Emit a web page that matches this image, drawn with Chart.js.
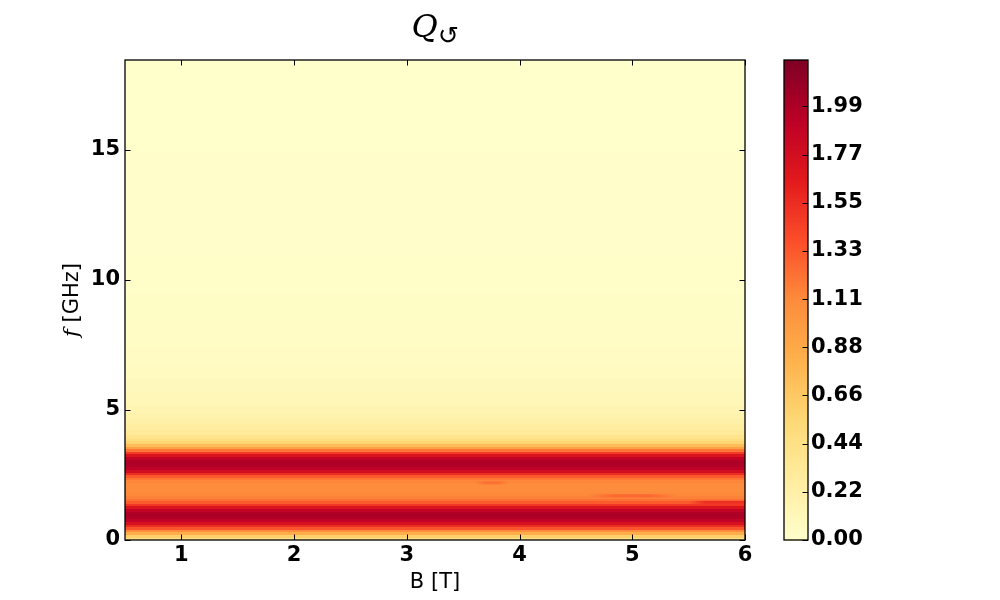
<!DOCTYPE html>
<html>
<head>
<meta charset="utf-8">
<script src="https://cdn.jsdelivr.net/npm/chart.js@4/dist/chart.umd.min.js"></script>
<style>
  body { margin: 0; background: #fff; }
  #wrap { position: relative; width: 1000px; height: 600px; }
  #main { position: absolute; left: 0; top: 0; }
  #cbar { position: absolute; left: 760px; top: 0; }
</style>
</head>
<body>
<div id="wrap">
  <canvas id="main" width="1000" height="600"></canvas>
  <canvas id="cbar" width="240" height="600"></canvas>
</div>
<script>
var freqs   = [0.0, 0.1, 0.2, 0.3, 0.4, 0.5, 0.6, 0.7, 0.8, 0.9,
               1.0, 1.1, 1.2, 1.3, 1.4, 1.5, 1.6, 1.7, 1.8, 2.0,
               2.2, 2.3, 2.4, 2.5, 2.6, 2.7, 2.8, 2.9, 3.0, 3.1,
               3.2, 3.3, 3.4, 3.5, 3.6, 3.7, 3.8, 3.9, 4.0, 4.2,
               4.4, 4.6, 4.8, 5.0, 5.5, 6.0, 6.5, 7.0, 8.0, 9.0,
               10.0, 12.0, 14.0, 16.0, 18.0];
var qValues = [0.35, 0.45, 0.62, 0.85, 1.10, 1.35, 1.55, 1.75, 1.90, 1.98,
               2.00, 1.98, 1.90, 1.72, 1.50, 1.33, 1.22, 1.15, 1.12, 1.10,
               1.10, 1.13, 1.20, 1.33, 1.55, 1.78, 1.92, 1.98, 2.00, 1.98,
               1.90, 1.72, 1.48, 1.20, 0.95, 0.75, 0.58, 0.47, 0.40, 0.32,
               0.27, 0.23, 0.20, 0.17, 0.13, 0.10, 0.08, 0.065, 0.045, 0.035,
               0.025, 0.015, 0.010, 0.005, 0.0];

// faint field-dependent streaks: [B from, B to, f, value]
var streakB0 = [3.6, 4.6, 5.5];
var streakB1 = [3.9, 5.4, 6.0];
var streakF  = [2.2, 1.7, 1.45];
var streakQ  = [1.25, 1.30, 1.60];

var bRange = [0.5, 6];
var fRange = [0, 18.46];
var cRange = [0, 2.203];

var xTicks = [1, 2, 3, 4, 5, 6];
var yTicks = [0, 5, 10, 15];
var cbTicks  = [0, 0.2211, 0.4422, 0.6633, 0.8844, 1.1055, 1.3266, 1.5477, 1.7688, 1.99];
var cbLabels = ['0.00', '0.22', '0.44', '0.66', '0.88', '1.11', '1.33', '1.55', '1.77', '1.99'];

// YlOrRd
var cmapStops = ['#ffffcc', '#ffeda0', '#fed976', '#feb24c', '#fd8d3c', '#fc4e2a', '#e31a1c', '#bd0026', '#800026'];

function hexRgb(h) {
  return [parseInt(h.substr(1, 2), 16), parseInt(h.substr(3, 2), 16), parseInt(h.substr(5, 2), 16)];
}
var cmapRgb = cmapStops.map(hexRgb);

function cmap(t, alpha) {
  t = Math.max(0, Math.min(1, t));
  var p = t * (cmapRgb.length - 1);
  var i = Math.min(Math.floor(p), cmapRgb.length - 2);
  var k = p - i;
  var a = cmapRgb[i], b = cmapRgb[i + 1];
  return 'rgba(' + Math.round(a[0] + (b[0] - a[0]) * k) + ',' +
                   Math.round(a[1] + (b[1] - a[1]) * k) + ',' +
                   Math.round(a[2] + (b[2] - a[2]) * k) + ',' + (alpha == null ? 1 : alpha) + ')';
}

var TICK = 5.5;
var tickFont = { family: '"DejaVu Sans"', size: 21, weight: 'bold' };

var heatPlugin = {
  id: 'heat',
  beforeDatasetsDraw: function(chart) {
    var ctx = chart.ctx, a = chart.chartArea;
    var xs = chart.scales.x, ys = chart.scales.y;
    var xl = xs.getPixelForValue(bRange[0]), xr = xs.getPixelForValue(bRange[1]);
    ctx.save();
    ctx.beginPath();
    ctx.rect(a.left, a.top, a.right - a.left, a.bottom - a.top);
    ctx.clip();
    for (var i = 0; i < freqs.length; i++) {
      var lo = i === 0 ? fRange[0] : (freqs[i - 1] + freqs[i]) / 2;
      var hi = i === freqs.length - 1 ? fRange[1] : (freqs[i] + freqs[i + 1]) / 2;
      var y0 = ys.getPixelForValue(lo), y1 = ys.getPixelForValue(hi);
      ctx.fillStyle = cmap(qValues[i] / cRange[1]);
      ctx.fillRect(xl, Math.floor(y1), xr - xl, Math.ceil(y0) - Math.floor(y1) + 1);
    }
    // streaks, soft edged
    for (var j = 0; j < streakF.length; j++) {
      var sx0 = xs.getPixelForValue(streakB0[j]), sx1 = xs.getPixelForValue(streakB1[j]);
      var sy0 = ys.getPixelForValue(streakF[j] - 0.06), sy1 = ys.getPixelForValue(streakF[j] + 0.06);
      var g = ctx.createLinearGradient(sx0, 0, sx1, 0);
      g.addColorStop(0, cmap(streakQ[j] / cRange[1], 0));
      g.addColorStop(0.3, cmap(streakQ[j] / cRange[1], 0.8));
      g.addColorStop(0.7, cmap(streakQ[j] / cRange[1], 0.8));
      g.addColorStop(1, cmap(streakQ[j] / cRange[1], streakB1[j] >= bRange[1] ? 0.8 : 0));
      ctx.fillStyle = g;
      ctx.fillRect(sx0, sy1, sx1 - sx0, sy0 - sy1);
    }
    ctx.restore();
  },
  afterDraw: function(chart) {
    var ctx = chart.ctx, a = chart.chartArea;
    var xs = chart.scales.x, ys = chart.scales.y;
    ctx.save();
    ctx.strokeStyle = '#000';
    ctx.lineWidth = 1.3;
    ctx.strokeRect(a.left, a.top, a.right - a.left, a.bottom - a.top);
    ctx.lineWidth = 1;
    ctx.beginPath();
    xs.ticks.forEach(function(t) {
      var px = Math.round(xs.getPixelForValue(t.value)) + 0.5;
      ctx.moveTo(px, a.bottom); ctx.lineTo(px, a.bottom - TICK);
      ctx.moveTo(px, a.top); ctx.lineTo(px, a.top + TICK);
    });
    ys.ticks.forEach(function(t) {
      var py = Math.round(ys.getPixelForValue(t.value)) + 0.5;
      ctx.moveTo(a.left, py); ctx.lineTo(a.left + TICK, py);
      ctx.moveTo(a.right, py); ctx.lineTo(a.right - TICK, py);
    });
    ctx.stroke();

    // title: Q with circle-arrow subscript
    var cx = (a.left + a.right) / 2;
    ctx.fillStyle = '#000';
    ctx.textBaseline = 'alphabetic';
    ctx.textAlign = 'left';
    ctx.font = 'italic 32px "DejaVu Serif"';
    var wq = ctx.measureText('Q').width;
    ctx.font = '25px "DejaVu Sans"';
    var ws = ctx.measureText('\u21BA').width;
    var x0 = cx - (wq + ws) / 2;
    ctx.font = 'italic 32px "DejaVu Serif"';
    ctx.fillText('Q', x0, 37);
    ctx.font = '25px "DejaVu Sans"';
    ctx.fillText('\u21BA', x0 + wq, 44);

    // y axis title: f [GHz]
    ctx.translate(78, (a.top + a.bottom) / 2);
    ctx.rotate(-Math.PI / 2);
    ctx.font = 'italic 21px "DejaVu Serif"';
    var wf = ctx.measureText('f').width;
    ctx.font = '21px "DejaVu Sans"';
    var wg = ctx.measureText(' [GHz]').width;
    var sx = -(wf + wg) / 2;
    ctx.font = 'italic 21px "DejaVu Serif"';
    ctx.fillText('f', sx, 0);
    ctx.font = '21px "DejaVu Sans"';
    ctx.fillText(' [GHz]', sx + wf, 0);
    ctx.restore();
  }
};

new Chart(document.getElementById('main'), {
  type: 'scatter',
  data: {
    datasets: [{
      label: 'Q',
      data: freqs.map(function(f) { return { x: bRange[0], y: f }; }),
      pointRadius: 0
    }]
  },
  options: {
    responsive: false,
    devicePixelRatio: 1,
    animation: false,
    events: [],
    layout: { padding: { left: 0, right: 255, top: 60, bottom: 0 } },
    plugins: { legend: { display: false }, tooltip: { enabled: false } },
    scales: {
      x: {
        type: 'linear',
        min: bRange[0], max: bRange[1],
        afterBuildTicks: function(s) { s.ticks = xTicks.map(function(v) { return { value: v }; }); },
        afterFit: function(s) { s.height = 60; },
        grid: { display: false, drawTicks: false },
        border: { display: false },
        ticks: { color: '#000', font: tickFont, padding: 3, maxRotation: 0 },
        title: { display: true, text: 'B [T]', color: '#000', font: { family: '"DejaVu Sans"', size: 21 }, padding: { top: 0, bottom: 5 } }
      },
      y: {
        type: 'linear',
        min: fRange[0], max: fRange[1],
        afterBuildTicks: function(s) { s.ticks = yTicks.map(function(v) { return { value: v }; }); },
        afterFit: function(s) { s.width = 125; },
        grid: { display: false, drawTicks: false },
        border: { display: false },
        ticks: { color: '#000', font: tickFont, padding: 5 }
      }
    }
  },
  plugins: [heatPlugin]
});

// colorbar
var cbarPlugin = {
  id: 'cbar',
  beforeDatasetsDraw: function(chart) {
    var ctx = chart.ctx, a = chart.chartArea, ys = chart.scales.y;
    var steps = 300;
    for (var i = 0; i < steps; i++) {
      var v0 = cRange[0] + (cRange[1] - cRange[0]) * i / steps;
      var v1 = cRange[0] + (cRange[1] - cRange[0]) * (i + 1) / steps;
      var p0 = ys.getPixelForValue(v0), p1 = ys.getPixelForValue(v1);
      ctx.fillStyle = cmap((v0 + v1) / 2 / cRange[1]);
      ctx.fillRect(a.left, Math.floor(p1), a.right - a.left, Math.ceil(p0) - Math.floor(p1) + 1);
    }
  },
  afterDraw: function(chart) {
    var ctx = chart.ctx, a = chart.chartArea, ys = chart.scales.y;
    ctx.save();
    ctx.strokeStyle = '#000';
    ctx.lineWidth = 1.3;
    ctx.strokeRect(a.left, a.top, a.right - a.left, a.bottom - a.top);
    ctx.lineWidth = 1;
    ctx.beginPath();
    ys.ticks.forEach(function(t) {
      var py = Math.round(ys.getPixelForValue(t.value)) + 0.5;
      ctx.moveTo(a.right, py); ctx.lineTo(a.right - TICK, py);
    });
    ctx.stroke();
    ctx.restore();
  }
};

new Chart(document.getElementById('cbar'), {
  type: 'scatter',
  data: { datasets: [{ data: [], pointRadius: 0 }] },
  options: {
    responsive: false,
    devicePixelRatio: 1,
    animation: false,
    events: [],
    layout: { padding: { left: 24, right: 0, top: 60, bottom: 60 } },
    plugins: { legend: { display: false }, tooltip: { enabled: false } },
    scales: {
      x: { display: false, min: 0, max: 1 },
      y: {
        type: 'linear',
        position: 'right',
        min: cRange[0], max: cRange[1],
        afterBuildTicks: function(s) { s.ticks = cbTicks.map(function(v) { return { value: v }; }); },
        afterFit: function(s) { s.width = 192; },
        grid: { display: false, drawTicks: false },
        border: { display: false },
        ticks: {
          color: '#000', font: tickFont, padding: 3,
          callback: function(v, i) { return cbLabels[i]; }
        }
      }
    }
  },
  plugins: [cbarPlugin]
});
</script>
</body>
</html>
